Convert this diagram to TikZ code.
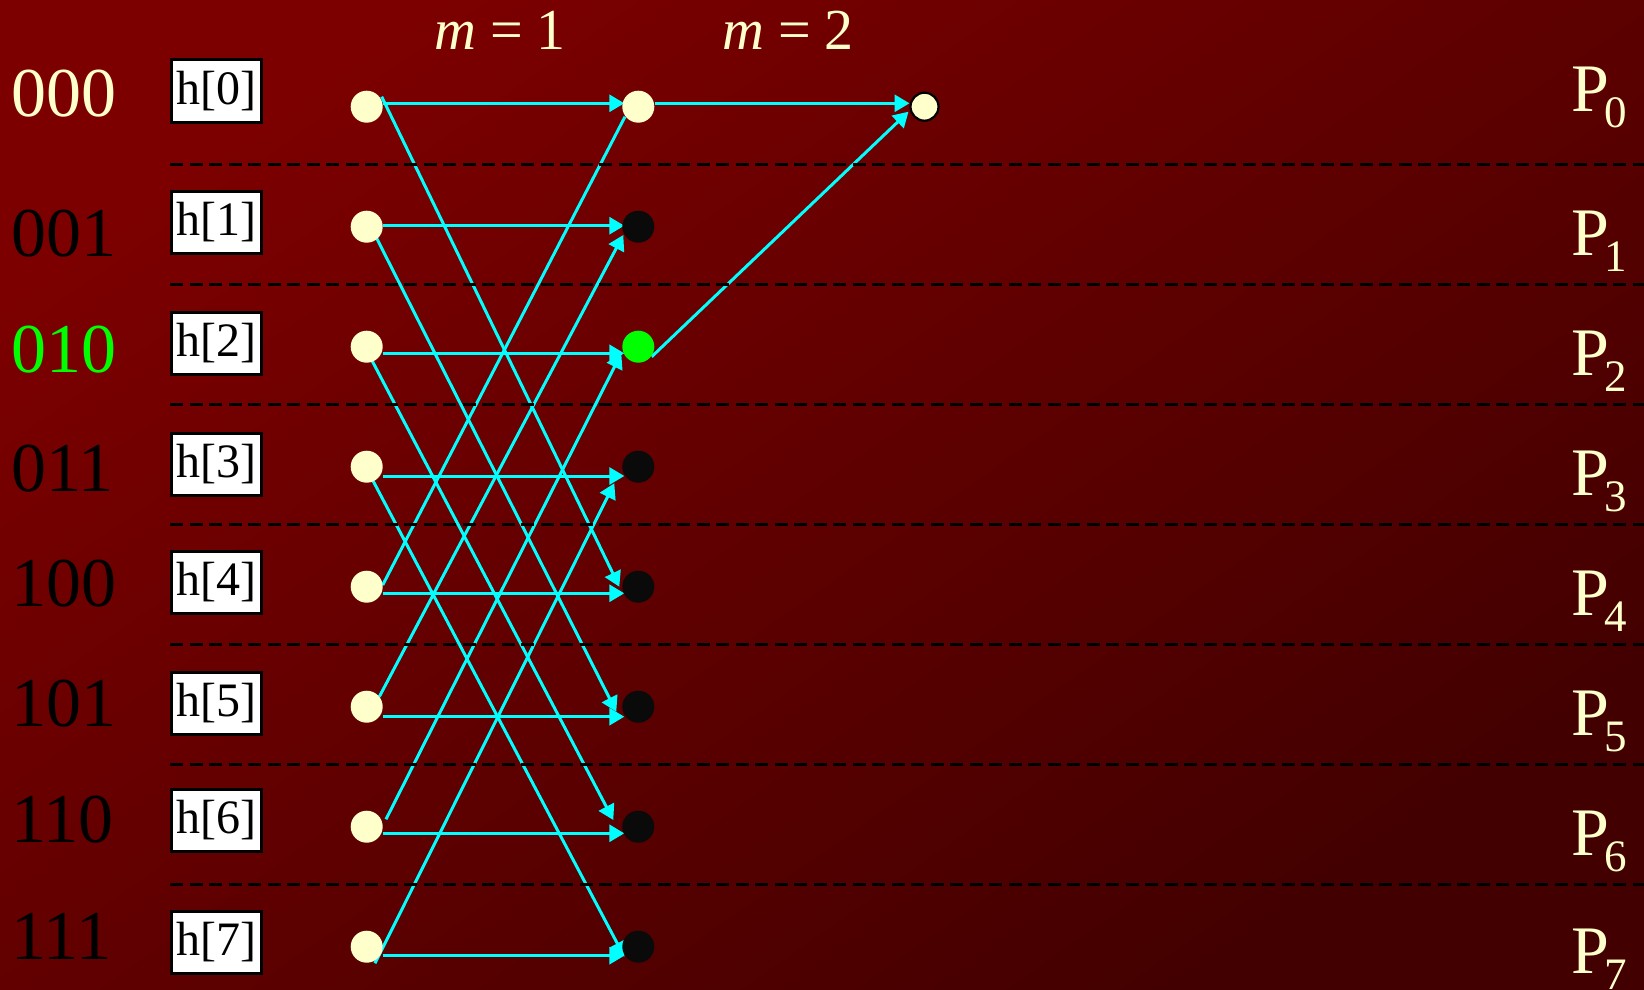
\documentclass[tikz,border=0pt]{standalone}
\usepackage{fontspec}
\setmainfont{Liberation Serif}
\usetikzlibrary{arrows.meta,calc}
\definecolor{cream}{RGB}{255,255,204}
\definecolor{cyanl}{RGB}{0,255,255}
\definecolor{greenn}{RGB}{0,255,0}
\definecolor{dotblack}{RGB}{10,10,10}
\definecolor{bgUL}{RGB}{124,0,0}
\definecolor{bgLR}{RGB}{66,0,0}
\pgfdeclarelayer{back}
\pgfdeclarelayer{lines}
\pgfsetlayers{back,lines,main}
\begin{document}
\begin{tikzpicture}[x=1pt,y=-1pt,
  dotc/.style={circle,minimum size=32pt,inner sep=0pt,draw=none},
  hbox/.style={draw=black,line width=3pt,fill=white,minimum width=90pt,minimum height=62pt,inner sep=0pt,font=\fontsize{48}{48}\selectfont},
  wire/.style={cyanl,line width=3pt},
  arr/.style={wire,-{Triangle[length=15pt,width=17pt]}},
  sep/.style={black,line width=3pt,dash pattern=on 13pt off 6.5pt},
  binlab/.style={anchor=base west,inner sep=0pt,font=\fontsize{70}{70}\selectfont},
  plab/.style={anchor=base west,inner sep=0pt,text=cream,font=\fontsize{68}{68}\selectfont},
  mlab/.style={anchor=base west,inner sep=0pt,text=cream,font=\fontsize{58}{58}\selectfont}]
\useasboundingbox (0,0) rectangle (1644,990);
\begin{pgfonlayer}{back}
\shade[top color=bgUL,bottom color=bgLR,shading angle=35] (0,0) rectangle (1644,990);
\end{pgfonlayer}

% left column dots
\foreach \k in {0,...,7} {
  \node[dotc,fill=cream] (l\k) at (366.7,{106.7+120*\k}) {};
}
% middle column dots
\node[dotc,fill=cream] (m0) at (638.3,106.7) {};
\node[dotc,fill=dotblack] (m1) at (638.3,226.7) {};
\node[dotc,fill=greenn] (m2) at (638.3,346.7) {};
\node[dotc,fill=dotblack] (m3) at (638.3,466.7) {};
\node[dotc,fill=dotblack] (m4) at (638.3,586.7) {};
\node[dotc,fill=dotblack] (m5) at (638.3,706.7) {};
\node[dotc,fill=dotblack] (m6) at (638.3,826.7) {};
\node[dotc,fill=dotblack] (m7) at (638.3,946.7) {};
% result dot
\node[circle,minimum size=28pt,inner sep=0pt,fill=cream,draw=black,line width=2.2pt] (r0) at (924.5,106.7) {};

% h boxes
\node[hbox] (h0) at (216.5,91) {h[0]};
\node[hbox] (h1) at (216.5,222) {h[1]};
\node[hbox] (h2) at (216.5,343) {h[2]};
\node[hbox] (h3) at (216.5,464) {h[3]};
\node[hbox] (h4) at (216.5,582.5) {h[4]};
\node[hbox] (h5) at (216.5,703) {h[5]};
\node[hbox] (h6) at (216.5,820) {h[6]};
\node[hbox] (h7) at (216.5,942) {h[7]};

% binary labels
\node[binlab,text=cream] (b0) at (11,117) {000};
\node[binlab,text=black] (b1) at (11,256) {001};
\node[binlab,text=greenn] (b2) at (11,372) {010};
\node[binlab,text=black] (b3) at (11,491) {011};
\node[binlab,text=black] (b4) at (11,606) {100};
\node[binlab,text=black] (b5) at (11,726) {101};
\node[binlab,text=black] (b6) at (11,842) {110};
\node[binlab,text=black] (b7) at (11,959) {111};

% P labels
\foreach \k/\yb in {0/111.7,1/255,2/375,3/495,4/615,5/735,6/855,7/973} {
  \node[plab] (p\k) at (1571,\yb) {P\kern-0.06em\raisebox{-16pt}{\fontsize{45}{45}\selectfont\k}};
}

% stage labels
\node[mlab] (s1) at (434,50) {\textit{m}\hspace{0.24em}=\hspace{0.24em}1};
\node[mlab] (s2) at (722,50) {\textit{m}\hspace{0.24em}=\hspace{0.24em}2};

\begin{pgfonlayer}{lines}
% horizontal arrows stage 1
\foreach \k/\dy in {0/-3.4,1/-1,2/6.6,3/9.3,4/6.6,5/10,6/6.6,7/9} {
  \draw[arr] ($(l\k)+(16,\dy)$) -- ($(m\k)+(-14,\dy)$);
}
% crossing arrows stage 1
\draw[arr] ($(l0)+(15,-10)$) -- ($(m4)+(-19,0)$);
\draw[arr] ($(l1)+(10,11.6)$) -- ($(m5)+(-22,5)$);
\draw[arr] ($(l2)+(5,13.3)$) -- ($(m6)+(-25,-6.7)$);
\draw[arr] ($(l3)+(5.5,12.5)$) -- ($(m7)+(-14,10)$);
\draw[wire] ($(l4)+(16,-1.7)$) -- ($(m0)+(-13.3,10)$);
\draw[arr] ($(l5)+(12.6,-10)$) -- ($(m1)+(-15,8.3)$);
\draw[arr] ($(l6)+(19.3,-7.4)$) -- ($(m2)+(-17,6.6)$);
\draw[arr] ($(l7)+(8.3,16.6)$) -- ($(m3)+(-24,16.6)$);
% stage 2
\draw[arr] ($(m0)+(16.5,-3.4)$) -- ($(r0)+(-15,-3.4)$);
\draw[arr] ($(m2)+(13.4,10)$) -- ($(r0)+(-16,5)$);
\end{pgfonlayer}

% separators
\foreach \k in {0,...,6} {
  \draw[sep] (170,{164+120*\k}) -- (1644,{164+120*\k});
}
\end{tikzpicture}
\end{document}
